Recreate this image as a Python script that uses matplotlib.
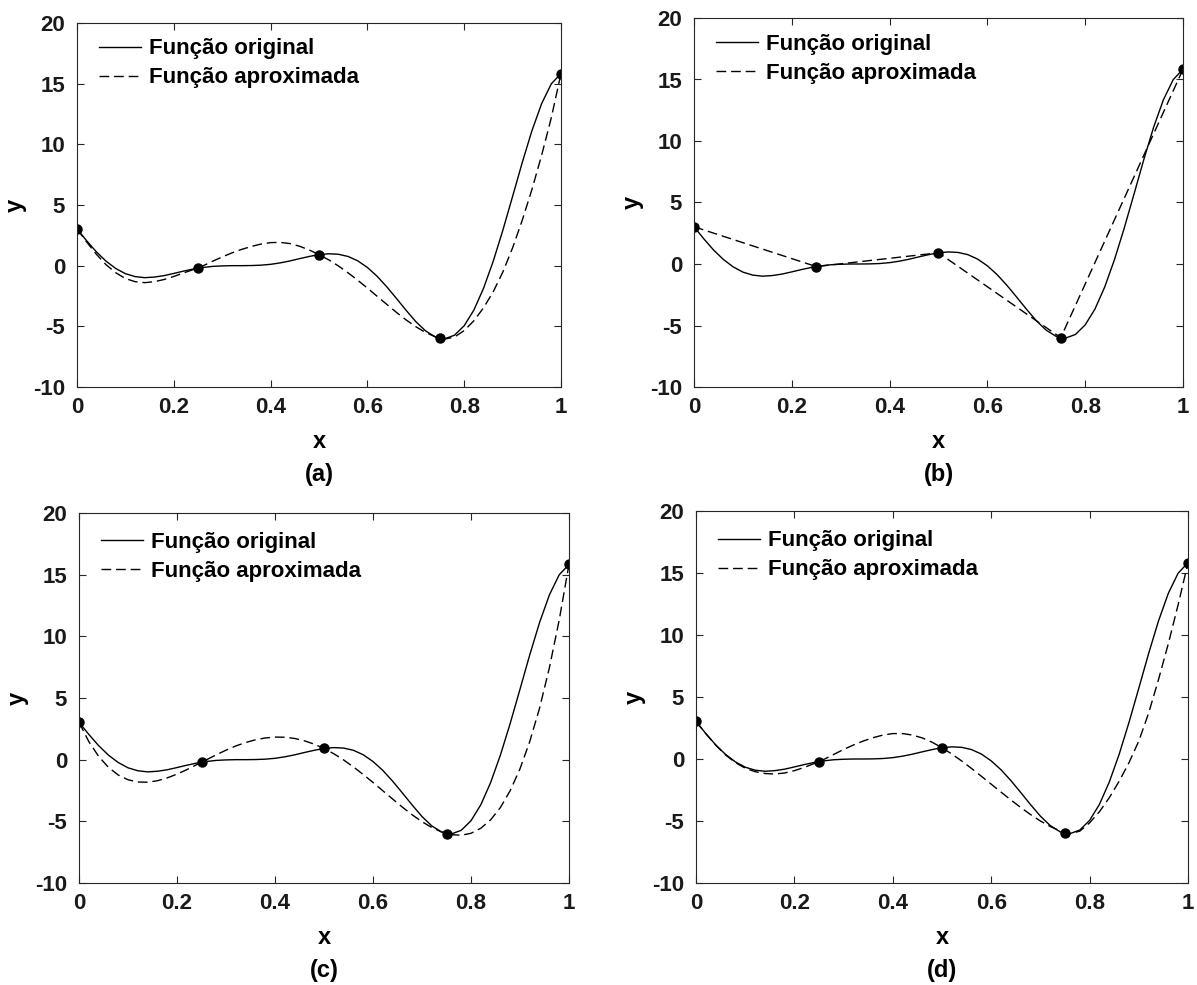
import numpy as np
import matplotlib.pyplot as plt

plt.rcParams['font.family'] = ['Liberation Sans', 'DejaVu Sans']
plt.rcParams['font.weight'] = 'bold'
plt.rcParams['font.size'] = 16
plt.rcParams['axes.unicode_minus'] = False

# sample positions of the curves and the five interpolation nodes
x_fine = np.linspace(0, 1, 51)
x_nodes = [0, 0.25, 0.5, 0.75, 1.0]
y_nodes = [3.03, -0.21, 0.91, -5.99, 15.83]

# original function
y_original = [3.03, 2.05, 1.14, 0.37, -0.23, -0.66, -0.90, -0.99, -0.94, -0.82,
              -0.64, -0.45, -0.28, -0.15, -0.06, -0.02, 0.00, 0.00, 0.01, 0.04,
              0.11, 0.23, 0.39, 0.58, 0.76, 0.91, 0.98, 0.94, 0.76, 0.40,
              -0.15, -0.87, -1.74, -2.70, -3.68, -4.61, -5.37, -5.87, -6.02, -5.73,
              -4.95, -3.66, -1.86, 0.37, 2.94, 5.71, 8.51, 11.13, 13.36, 14.99,
              15.83]

# approximated functions (panels a, c, d)
y_approx_a = [3.03, 1.95, 0.94, 0.08, -0.58, -1.06, -1.32, -1.40, -1.32, -1.14,
              -0.89, -0.60, -0.33, -0.02, 0.36, 0.72, 1.05, 1.34, 1.58, 1.78,
              1.90, 1.92, 1.82, 1.60, 1.29, 0.91, 0.48, -0.02, -0.59, -1.20,
              -1.85, -2.52, -3.19, -3.85, -4.47, -5.03, -5.50, -5.86, -6.05, -5.88,
              -5.35, -4.54, -3.47, -2.15, -0.51, 1.47, 3.75, 6.29, 9.10, 12.20,
              15.83]
y_approx_c = [3.03, 1.47, 0.27, -0.62, -1.24, -1.63, -1.81, -1.83, -1.71, -1.48,
              -1.17, -0.81, -0.41, -0.01, 0.39, 0.77, 1.11, 1.39, 1.61, 1.76,
              1.83, 1.82, 1.72, 1.53, 1.26, 0.91, 0.48, -0.02, -0.59, -1.20,
              -1.85, -2.52, -3.19, -3.85, -4.47, -5.03, -5.50, -5.86, -6.08, -6.13,
              -5.97, -5.56, -4.88, -3.88, -2.51, -0.74, 1.48, 4.19, 7.46, 11.32,
              15.83]
y_approx_d = [3.03, 2.04, 1.12, 0.33, -0.29, -0.74, -1.02, -1.17, -1.21, -1.13,
              -0.94, -0.68, -0.37, -0.03, 0.37, 0.77, 1.13, 1.45, 1.72, 1.93,
              2.05, 2.05, 1.93, 1.70, 1.35, 0.91, 0.40, -0.16, -0.76, -1.39,
              -2.03, -2.67, -3.30, -3.91, -4.48, -5.00, -5.44, -5.80, -6.02, -5.82,
              -5.15, -4.25, -3.12, -1.80, -0.30, 1.45, 3.70, 6.40, 9.30, 12.45,
              15.83]

panel_labels = ['(a)', '(b)', '(c)', '(d)']
approx_x = [x_fine, x_nodes, x_fine, x_fine]
approx_y = [y_approx_a, y_nodes, y_approx_c, y_approx_d]

W, H = 1197, 985
# axes boxes in pixels: left, top, right, bottom
boxes = [(77, 23, 561, 387), (694, 18, 1183, 387),
         (79, 513, 569, 883), (696, 511, 1188, 883)]
legend_top = [0.982, 0.982, 0.972, 0.972]

fig = plt.figure(figsize=(W / 100, H / 100), dpi=100)
axc = '#262626'

for i, (l, t, r, b) in enumerate(boxes):
    ax = fig.add_axes([l / W, 1 - b / H, (r - l) / W, (b - t) / H])
    ax.plot(x_fine, y_original, color='k', lw=1.0, label='Função original')
    ax.plot(approx_x[i], approx_y[i], color='k', lw=1.0, linestyle=(0, (7, 3.5)),
            label='Função aproximada')
    ax.plot(x_nodes, y_nodes, 'o', color='k', markersize=6.5)

    ax.set_xlim(0, 1)
    ax.set_ylim(-10, 20)
    ax.set_xticks([0, 0.2, 0.4, 0.6, 0.8, 1])
    ax.set_xticklabels(['0', '0.2', '0.4', '0.6', '0.8', '1'])
    ax.set_yticks([-10, -5, 0, 5, 10, 15, 20])
    ax.tick_params(direction='in', length=5, width=0.8, color=axc, top=True, right=True,
                   labelcolor='#1a1a1a', labelsize=16)
    ax.tick_params(axis='x', pad=7)
    ax.tick_params(axis='y', pad=8.5)
    for s in ax.spines.values():
        s.set_color(axc)
        s.set_linewidth(0.8)

    ax.legend(loc='upper left', bbox_to_anchor=(0.027, legend_top[i]), frameon=False,
              handlelength=1.9, handletextpad=0.36, labelspacing=0.36,
              borderaxespad=0, fontsize=16)

    cx = (l + r) / 2
    fig.text(cx / W, 1 - (b + 55) / H, 'x', ha='center', va='center', fontsize=17)
    fig.text(cx / W, 1 - (b + 88) / H, panel_labels[i], ha='center', va='center', fontsize=17)
    fig.text((l - 62) / W, 1 - ((t + b) / 2) / H, 'y', ha='center', va='center',
             rotation=90, fontsize=17)

fig.savefig('out.png', dpi=100)
